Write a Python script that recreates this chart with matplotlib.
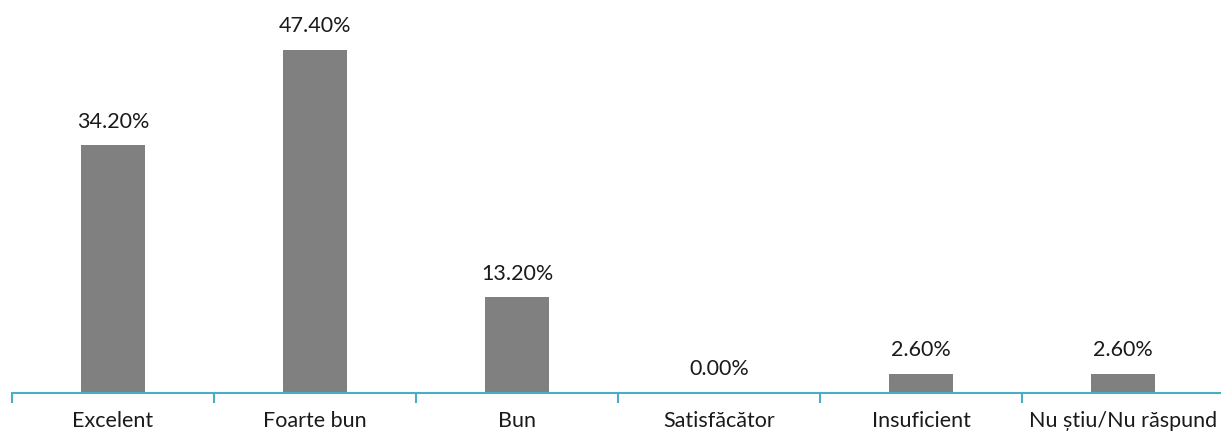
import numpy as np
import matplotlib.pyplot as plt

### Data
categories = ['Excelent', 'Foarte bun', 'Bun', 'Satisfăcător', 'Insuficient',
              'Nu știu/Nu răspund']
values = [34.2, 47.4, 13.2, 0.0, 2.6, 2.6]

### Plot
plt.rcParams['font.family'] = ['Lato', 'DejaVu Sans']

fig = plt.figure(figsize=(12.21, 4.34), dpi=100)
ax = fig.add_axes([12/1221, 41/434, 1212/1221, 362/434])

x = np.arange(len(categories))
bars = ax.bar(x, values, width=0.32, color='#808080', zorder=2)

for xi, v in zip(x, values):
    ax.annotate('%.2f%%' % v, (xi, v), xytext=(0, 10), textcoords='offset points',
                ha='center', va='bottom', fontsize=15.5, color='#1a1a1a')

ax.set_xlim(-0.5, len(categories) - 0.5)
ax.set_ylim(0, 50)

for loc in ['top', 'right', 'left']:
    ax.spines[loc].set_visible(False)
ax.spines['bottom'].set_color('#4BACC6')
ax.spines['bottom'].set_linewidth(1.5)

ax.set_yticks([])
ax.set_xticks(x)
ax.set_xticklabels(categories, fontsize=15.5, color='#1a1a1a')
ax.tick_params(axis='x', which='major', length=0, pad=13)
ax.set_xticks(np.arange(-0.5, len(categories), 1), minor=True)
ax.tick_params(axis='x', which='minor', length=7, width=1.5, color='#4BACC6',
               direction='out')

plt.savefig('out.png', dpi=100)
